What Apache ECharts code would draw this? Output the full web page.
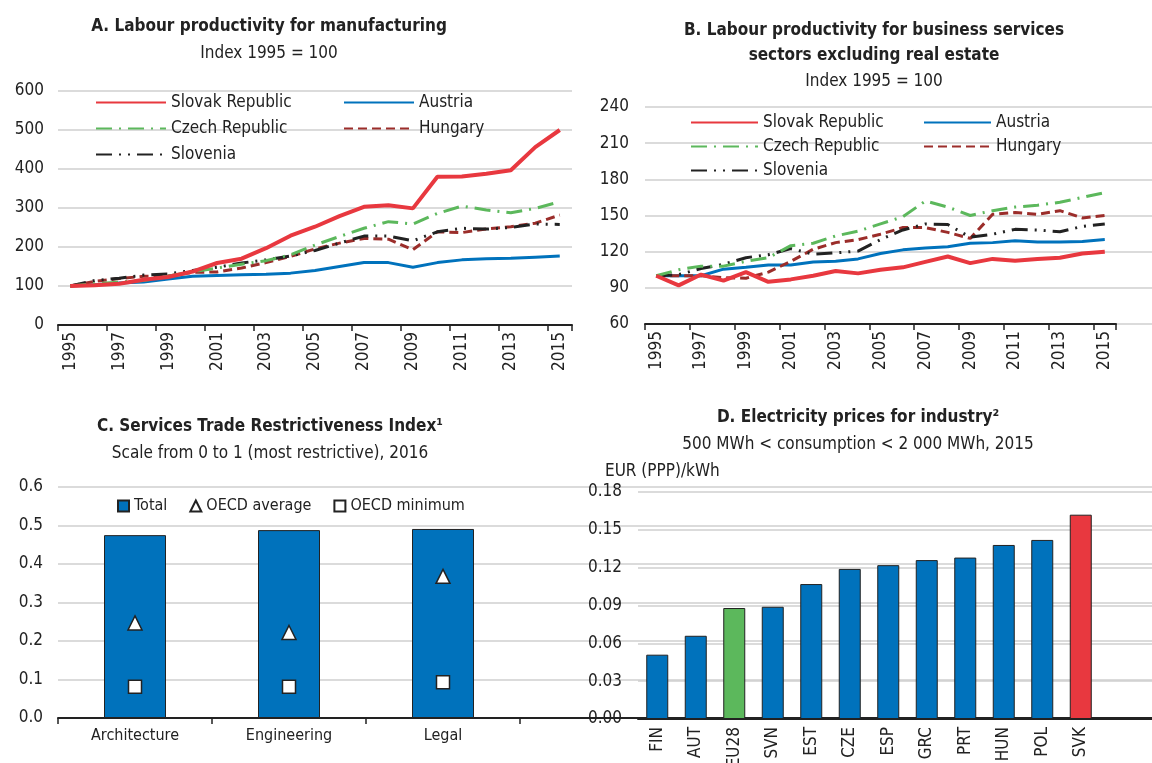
<!DOCTYPE html>
<html>
<head>
<meta charset="utf-8">
<script src="https://cdn.jsdelivr.net/npm/echarts@6/dist/echarts.min.js"></script>
<style>
  html, body { margin: 0; padding: 0; background: #fff; }
  #chart { width: 1152px; height: 763px; }
</style>
</head>
<body>
<div id="chart"></div>
<script>
// Data
const years = ["1995", "1996", "1997", "1998", "1999", "2000", "2001", "2002", "2003", "2004",
  "2005", "2006", "2007", "2008", "2009", "2010", "2011", "2012", "2013", "2014", "2015"];

// A. manufacturing, index 1995 = 100
const mfgSlovak = [100, 102, 106, 116, 123, 137, 159, 170, 197, 229, 252, 279, 303, 307, 299, 380, 381, 388, 397, 456, 500];
const mfgAustria = [100, 103, 108, 110, 118, 125, 127, 129, 130, 133, 140, 150, 160, 160, 148, 160, 167, 170, 171, 174, 177];
const mfgCzech = [100, 106, 110, 114, 125, 137, 146, 156, 165, 180, 205, 227, 248, 265, 259, 286, 305, 295, 288, 299, 316];
const mfgHungary = [100, 112, 119, 125, 126, 135, 136, 146, 160, 176, 195, 210, 222, 220, 193, 239, 237, 246, 252, 261, 282];
const mfgSlovenia = [100, 114, 120, 128, 131, 140, 148, 159, 167, 177, 191, 210, 228, 228, 216, 239, 248, 246, 250, 259, 258];

// B. business services excl. real estate, index 1995 = 100
const bsSlovak = [100, 92, 101, 96, 103, 95, 97, 100, 104, 102, 105, 107, 111.5, 116, 110.5, 114, 112.5, 114, 115, 118.5, 120];
const bsAustria = [100, 100, 100, 105.5, 107, 109, 109, 111.5, 112, 114, 118.5, 121.5, 123, 124, 127, 127.5, 129, 128, 128, 128.5, 130];
const bsCzech = [100, 105, 108, 108, 112, 115, 125, 127, 133, 137, 143, 149, 162, 157, 150, 154, 157, 158.5, 161, 165, 169];
const bsHungary = [100, 100, 100, 98.5, 98, 103, 112, 122, 127.5, 130, 134.5, 140, 140, 136, 131, 151, 152.5, 151, 154, 148, 150];
const bsSlovenia = [100, 101, 106, 109.5, 115, 117.5, 122.5, 118, 119, 120.5, 130, 138, 143, 142.5, 132, 134.5, 138.5, 138, 136.5, 141, 143];

// C. STRI 2016
const sectors = ["Architecture", "Engineering", "Legal"];
const striTotal = [0.475, 0.488, 0.491];
const striOecdAvg = [0.247, 0.222, 0.368];
const striOecdMin = [0.081, 0.081, 0.093];

// D. electricity prices for industry, 2015
const countries = ["FIN", "AUT", "EU28", "SVN", "EST", "CZE", "ESP", "GRC", "PRT", "HUN", "POL", "SVK"];
const elecPrice = [0.051, 0.066, 0.088, 0.089, 0.107, 0.119, 0.122, 0.126, 0.128, 0.138, 0.142, 0.162];

const FONT = "'Liberation Sans Narrow', 'Arial Narrow', 'DejaVu Sans Condensed', sans-serif";
const TXT = "#222";
const RED = "#e8383f";
const BLUE = "#0072bc";
const GREEN = "#5cb85c";
const DKRED = "#9b2d2a";
const BLACK = "#222";
const GRIDC = "#cfcfcf";

const chart = echarts.init(document.getElementById("chart"));

function titleText(text, x, y, bold) {
  return {
    text: text, left: x, top: y, textAlign: "center", padding: 0,
    textStyle: { fontFamily: FONT, fontSize: 17, fontWeight: bold ? "bold" : "normal", color: TXT }
  };
}

function valueAxis(gridIndex, min, max, interval, margin, labels, decimals, grid) {
  return {
    type: "value", gridIndex: gridIndex, min: min, max: max, interval: interval,
    axisLine: { show: false }, axisTick: { show: false },
    splitLine: { show: grid, lineStyle: { color: GRIDC, width: 1.5 } },
    axisLabel: {
      show: labels, margin: margin, fontFamily: FONT, fontSize: 17, color: TXT,
      formatter: v => decimals ? v.toFixed(decimals) : String(v)
    }
  };
}

function yearAxis(gridIndex) {
  return {
    type: "category", gridIndex: gridIndex, data: years, boundaryGap: true,
    axisLine: { show: true, lineStyle: { color: BLACK, width: 2 } },
    axisTick: { show: true, length: 6, lineStyle: { color: BLACK, width: 1.5 } },
    axisLabel: { interval: 1, rotate: 90, margin: 7, fontFamily: FONT, fontSize: 17, color: TXT }
  };
}

// extra axis only used to stretch gridlines / axis line to the panel edge
function blankX(gridIndex, showLine) {
  return {
    type: "value", gridIndex: gridIndex, min: 0, max: 1,
    axisLine: { show: showLine, onZero: false, lineStyle: { color: BLACK, width: 2 } },
    axisTick: { show: false }, axisLabel: { show: false }, splitLine: { show: false }
  };
}

function lineSeries(name, data, color, width, type, axis) {
  return {
    name: name, type: "line", data: data, xAxisIndex: axis, yAxisIndex: axis,
    symbol: "none", showSymbol: false, smooth: false,
    lineStyle: { color: color, width: width, type: type, cap: "butt" },
    itemStyle: { color: color }
  };
}

const czechDash = [16, 7, 2, 7];
const sloveniaDash = [16, 7, 2, 7, 2, 7];
const hungaryDash = [9, 5];

const legendText = { fontFamily: FONT, fontSize: 17, color: TXT };

function lineLegend(x, y, names, w, gap) {
  return {
    orient: "vertical", left: x, top: y, padding: 0, itemWidth: w, itemHeight: 14, itemGap: gap,
    data: names, textStyle: legendText,
    itemStyle: { opacity: 0 }, lineStyle: { opacity: 1 }
  };
}

function grid(left, top, width, height) {
  const g = { left: left, top: top, height: height, outerBoundsMode: "none", containLabel: false };
  if (width === null) g.right = 0; else g.width = width;
  return g;
}

const option = {
  animation: false,
  title: [
    titleText("A. Labour productivity for manufacturing", 269, 18, true),
    titleText("Index 1995 = 100", 269, 45, false),
    titleText("B. Labour productivity for business services", 874, 22, true),
    titleText("sectors excluding real estate", 874, 47, true),
    titleText("Index 1995 = 100", 874, 73, false),
    titleText("C. Services Trade Restrictiveness Index¹", 270, 418, true),
    titleText("Scale from 0 to 1 (most restrictive), 2016", 270, 445, false),
    titleText("D. Electricity prices for industry²", 858, 409, true),
    titleText("500 MWh < consumption < 2 000 MWh, 2015", 858, 436, false),
    {
      text: "EUR (PPP)/kWh", left: 605, top: 463, padding: 0,
      textStyle: { fontFamily: FONT, fontSize: 17, fontWeight: "normal", color: TXT }
    }
  ],
  legend: [
    lineLegend(95, 94, ["Slovak Republic", "Czech Republic", "Slovenia"], 70, 9),
    lineLegend(343, 94, ["Austria", "Hungary"], 70, 9),
    lineLegend(690, 114, ["Slovak Republic ", "Czech Republic ", "Slovenia "], 67, 7),
    lineLegend(923, 114, ["Austria ", "Hungary "], 67, 7),
    {
      left: 117, top: 498, padding: 0, itemWidth: 11, itemHeight: 11, itemGap: 22,
      data: [{ name: "Total", icon: "rect" }, { name: "OECD average" }, { name: "OECD minimum" }],
      textStyle: { fontFamily: FONT, fontSize: 16, color: TXT }
    }
  ],
  grid: [
    grid(58, 91, 514, 234),    // A
    grid(645, 107, 471, 217),  // B
    grid(645, 107, null, 217), // B gridlines to edge
    grid(58, 487, 462, 231),   // C
    grid(58, 487, null, 231),  // C gridlines to edge
    grid(638, 492, 462, 227),  // D
    grid(638, 492, null, 227)  // D gridlines to edge
  ],
  xAxis: [
    yearAxis(0),
    yearAxis(1),
    blankX(2, false),
    {
      type: "category", gridIndex: 3, data: sectors,
      axisLine: { show: false },
      axisTick: { show: true, length: 6, lineStyle: { color: BLACK, width: 1.5 } },
      axisLabel: { margin: 10, fontFamily: FONT, fontSize: 16, color: TXT }
    },
    blankX(4, true),
    {
      type: "category", gridIndex: 5, data: countries,
      axisLine: { show: false }, axisTick: { show: false },
      axisLabel: { interval: 0, rotate: 90, margin: 8, fontFamily: FONT, fontSize: 17, color: TXT }
    },
    blankX(6, true)
  ],
  yAxis: [
    valueAxis(0, 0, 600, 100, 14, true, 0, true),
    valueAxis(1, 60, 240, 30, 16, true, 0, false),
    valueAxis(2, 60, 240, 30, 16, false, 0, true),
    valueAxis(3, 0, 0.6, 0.1, 15, true, 1, false),
    valueAxis(4, 0, 0.6, 0.1, 15, false, 1, true),
    valueAxis(5, 0, 0.18, 0.03, 16, true, 2, false),
    valueAxis(6, 0, 0.18, 0.03, 16, false, 2, true)
  ],
  series: [
    // A
    lineSeries("Austria", mfgAustria, BLUE, 3, "solid", 0),
    lineSeries("Hungary", mfgHungary, DKRED, 3, hungaryDash, 0),
    lineSeries("Slovenia", mfgSlovenia, BLACK, 3, sloveniaDash, 0),
    lineSeries("Czech Republic", mfgCzech, GREEN, 3, czechDash, 0),
    lineSeries("Slovak Republic", mfgSlovak, RED, 4, "solid", 0),
    // B (trailing space keeps its legend entries separate from A)
    lineSeries("Austria ", bsAustria, BLUE, 3, "solid", 1),
    lineSeries("Hungary ", bsHungary, DKRED, 3, hungaryDash, 1),
    lineSeries("Slovenia ", bsSlovenia, BLACK, 3, sloveniaDash, 1),
    lineSeries("Czech Republic ", bsCzech, GREEN, 3, czechDash, 1),
    lineSeries("Slovak Republic ", bsSlovak, RED, 4, "solid", 1),
    // C
    {
      name: "Total", type: "bar", xAxisIndex: 3, yAxisIndex: 3, data: striTotal, barWidth: 62,
      itemStyle: { color: BLUE, borderColor: BLACK, borderWidth: 1 }
    },
    {
      name: "OECD average", type: "scatter", xAxisIndex: 3, yAxisIndex: 3, data: striOecdAvg,
      symbol: "triangle", symbolSize: 14, z: 5,
      itemStyle: { color: "#fff", opacity: 1, borderColor: BLACK, borderWidth: 1.5 }
    },
    {
      name: "OECD minimum", type: "scatter", xAxisIndex: 3, yAxisIndex: 3, data: striOecdMin,
      symbol: "rect", symbolSize: 13, z: 5,
      itemStyle: { color: "#fff", opacity: 1, borderColor: BLACK, borderWidth: 1.5 }
    },
    // D
    {
      name: "Electricity", type: "bar", xAxisIndex: 5, yAxisIndex: 5, barWidth: 22,
      data: elecPrice.map((v, i) => ({
        value: v,
        itemStyle: { color: countries[i] === "SVK" ? RED : countries[i] === "EU28" ? GREEN : BLUE }
      })),
      itemStyle: { borderColor: BLACK, borderWidth: 1 }
    }
  ]
};

chart.setOption(option);
</script>
</body>
</html>
